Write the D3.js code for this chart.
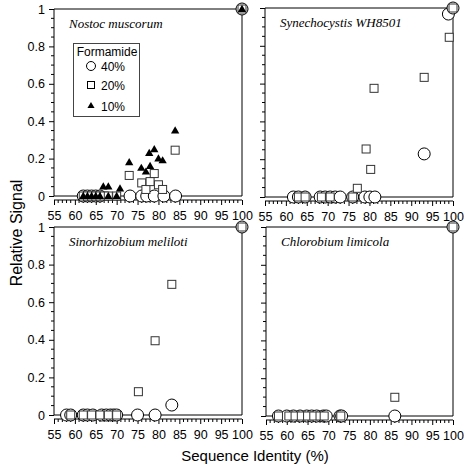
<!DOCTYPE html>
<html><head><meta charset="utf-8">
<script src="https://cdn.jsdelivr.net/npm/d3@7"></script>
<style>body{margin:0;background:#fff}svg{display:block}</style>
</head><body>
<script>
// ---- data ----
const panelTitles = ["Nostoc muscorum", "Synechocystis WH8501", "Sinorhizobium meliloti", "Chlorobium limicola"];
const xTicks = [55, 60, 65, 70, 75, 80, 85, 90, 95, 100];
const yTicks = [0, 0.2, 0.4, 0.6, 0.8, 1];
const yTickLabels = ["0", "0.2", "0.4", "0.6", "0.8", "1"];
const legendLabels = ["40%", "20%", "10%"];

// Nostoc muscorum
const nostoc40 = [[62,0],[63,0],[64,0],[65,0],[66,0],[73.2,0],[76,0],[77.2,0],[79,0],[81.3,0],[84.1,0],[100,1]];
const nostoc20 = [[62,0],[63,0],[64,0],[65,0],[66,0],[67,0],[68,0],[70,0],[73,0.11],[76,0.07],[77,0.035],[78,0.077],[79,0.12],[80,0.06],[81,0.035],[84,0.245],[100,1]];
const nostoc10 = [[62,0],[63,0],[64,0],[65,0],[66,0],[66.8,0.05],[68,0.05],[68,0],[70,0],[70.8,0.04],[73,0.18],[75.9,0.15],[77,0.13],[78,0.16],[77.8,0.23],[79,0.25],[80,0.2],[81,0.19],[84,0.35],[100,1]];
// Synechocystis WH8501
const synecho40 = [[61.8,0],[63,0],[64.6,0],[68.2,0],[69.4,0],[70.6,0],[71.8,0],[73,0],[76,0],[78.9,0],[80.1,0],[81.3,0],[93.1,0.228],[98.9,0.968],[100,1]];
const synecho20 = [[63,0],[64.6,0],[68.5,0],[70.6,0],[76,0],[77.1,0.046],[79.2,0.254],[80.3,0.146],[81.1,0.575],[93.1,0.633],[99.1,0.845],[100,1]];
const synecho10 = [];
// Sinorhizobium meliloti
const sino40 = [[58,0],[59,0],[62,0],[63,0],[64.3,0],[66.4,0],[67.5,0],[68.5,0],[69.3,0],[70,0],[75,0],[79.2,0],[83.2,0.053],[100,1]];
const sino20 = [[59,0],[62,0],[64,0],[66,0],[68,0],[70,0],[75.2,0.124],[79.2,0.395],[83.2,0.695],[100,1]];
const sino10 = [];
// Chlorobium limicola
const chloro40 = [[58,0],[60,0],[61.6,0],[63.2,0],[64.8,0],[66,0],[67.2,0],[68.8,0],[69.5,0],[72.8,0],[73.2,0],[86,0],[100,1]];
const chloro20 = [[58,0],[60.5,0],[62,0],[63.5,0],[65,0],[66.5,0],[68,0],[69,0],[73,0],[86,0.099],[100,1]];
const chloro10 = [];

const panelData = [
  [nostoc40, nostoc20, nostoc10],
  [synecho40, synecho20, synecho10],
  [sino40, sino20, sino10],
  [chloro40, chloro20, chloro10]
];

// ---- layout ----
const W = 464, H = 467;
const boxes = [
  {x0: 54, x1: 242, y0: 9, y1: 196, yLabels: true},
  {x0: 265, x1: 453, y0: 8, y1: 197, yLabels: false},
  {x0: 54, x1: 242, y0: 227, y1: 415, yLabels: true},
  {x0: 266, x1: 453, y0: 227, y1: 416, yLabels: false}
];
const sans = "'Liberation Sans', Arial, Helvetica, sans-serif";
const serif = "'Liberation Serif', 'Times New Roman', serif";

const svg = d3.select("body").append("svg").attr("width", W).attr("height", H);

const triSym = d3.symbol().type(d3.symbolTriangle).size(30);

boxes.forEach((b, i) => {
  const x = d3.scaleLinear().domain([55, 100]).range([b.x0, b.x1]);
  const y = d3.scaleLinear().domain([0, 1]).range([b.y1, b.y0]);
  const g = svg.append("g");

  // frame: top, right, bottom (zero) lines
  g.append("path")
    .attr("d", `M${b.x0},${b.y0}H${b.x1}V${b.y1}H${b.x0}`)
    .attr("fill", "none").attr("stroke", "#000").attr("stroke-width", 1);

  // y axis
  const yAx = d3.axisLeft(y).tickValues(yTicks).tickSize(5)
    .tickFormat((d, k) => b.yLabels ? yTickLabels[k] : "");
  const ya = g.append("g").attr("transform", `translate(${b.x0},0)`).call(yAx);
  ya.select(".domain").attr("d", `M0,${b.y1}V${b.y0}`);
  ya.selectAll("text").attr("font-family", sans).attr("font-size", 12.5).attr("fill", "#000").attr("dx", "-1");
  const yMinor = d3.range(0, 1.0001, 0.05).filter(v => Math.round(v * 100) % 20 !== 0);
  ya.selectAll(".minor").data(yMinor).enter().append("line")
    .attr("x1", -3).attr("x2", 0).attr("y1", d => y(d)).attr("y2", d => y(d)).attr("stroke", "#000");

  // x axis (offset below plot)
  const xOff = b.y1 + 4;
  const xAx = d3.axisBottom(x).tickValues(xTicks).tickSize(5).tickPadding(6).tickFormat(d3.format("d"));
  const xa = g.append("g").attr("transform", `translate(0,${xOff})`).call(xAx);
  xa.select(".domain").attr("d", `M${b.x0},0H${b.x1}`);
  xa.selectAll("text").attr("font-family", sans).attr("font-size", 12.5).attr("fill", "#000");
  const xMinor = d3.range(55, 101, 1).filter(v => v % 5 !== 0);
  xa.selectAll(".minor").data(xMinor).enter().append("line")
    .attr("x1", d => x(d)).attr("x2", d => x(d)).attr("y1", 0).attr("y2", 3).attr("stroke", "#000");

  // title
  g.append("text").attr("x", b.x0 + 15).attr("y", b.y0 + 19)
    .attr("font-family", serif).attr("font-style", "italic").attr("font-size", 13)
    .text(panelTitles[i]);

  const [s40, s20, s10] = panelData[i];
  g.selectAll(".c").data(s40).enter().append("circle")
    .attr("cx", d => x(d[0])).attr("cy", d => y(d[1])).attr("r", 6)
    .attr("fill", "#fff").attr("stroke", "#000").attr("stroke-width", 1);
  g.selectAll(".s").data(s20).enter().append("rect")
    .attr("x", d => x(d[0]) - 4).attr("y", d => y(d[1]) - 4).attr("width", 8).attr("height", 8)
    .attr("fill", "#fff").attr("stroke", "#333").attr("stroke-width", 1);
  g.selectAll(".t").data(s10).enter().append("path")
    .attr("d", triSym).attr("transform", d => `translate(${x(d[0])},${y(d[1]) + 0.5})`)
    .attr("fill", "#000");
});

// legend
const lg = svg.append("g");
lg.append("rect").attr("x", 73.5).attr("y", 43.5).attr("width", 66).attr("height", 73)
  .attr("fill", "#fff").attr("stroke", "#444").attr("stroke-width", 1);
lg.append("text").attr("x", 107).attr("y", 56).attr("text-anchor", "middle")
  .attr("font-family", sans).attr("font-size", 12).text("Formamide");
const rowY = [66, 85, 106];
lg.append("circle").attr("cx", 91).attr("cy", rowY[0]).attr("r", 4.5).attr("fill", "#fff").attr("stroke", "#000");
lg.append("rect").attr("x", 87.5).attr("y", rowY[1] - 3.5).attr("width", 7).attr("height", 7).attr("fill", "#fff").attr("stroke", "#000");
lg.append("path").attr("d", d3.symbol().type(d3.symbolTriangle).size(22)).attr("transform", `translate(91,${rowY[2]})`).attr("fill", "#000");
legendLabels.forEach((t, k) => {
  lg.append("text").attr("x", 101).attr("y", rowY[k] + 4.5).attr("font-family", sans).attr("font-size", 12).text(t);
});

// axis titles
svg.append("text").attr("transform", "translate(22,233) rotate(-90)").attr("text-anchor", "middle")
  .attr("font-family", sans).attr("font-size", 16).text("Relative Signal");
svg.append("text").attr("x", 255).attr("y", 461).attr("text-anchor", "middle")
  .attr("font-family", sans).attr("font-size", 15).text("Sequence Identity (%)");
</script>
</body></html>
